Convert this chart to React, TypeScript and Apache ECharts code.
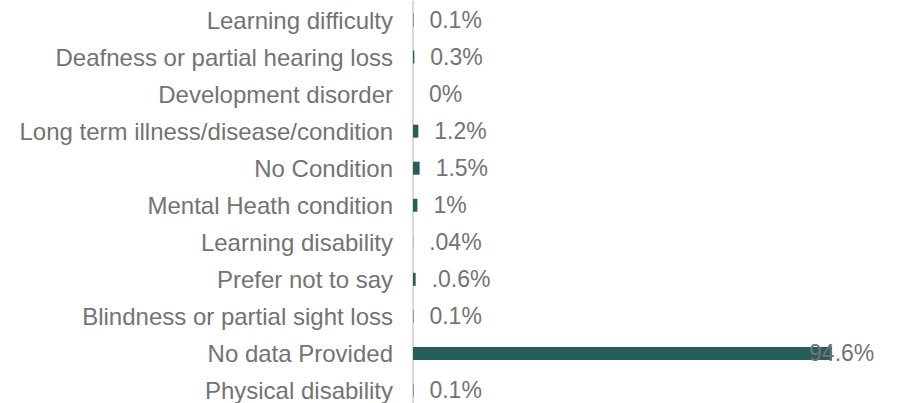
import React, { useEffect, useRef } from "react";
import * as echarts from "echarts";

const categories = [
  "Learning difficulty",
  "Deafness or partial hearing loss",
  "Development disorder",
  "Long term illness/disease/condition",
  "No Condition",
  "Mental Heath condition",
  "Learning disability",
  "Prefer not to say",
  "Blindness or partial sight loss",
  "No data Provided",
  "Physical disability",
];
const values = [0.1, 0.3, 0, 1.2, 1.5, 1, 0.04, 0.6, 0.1, 94.6, 0.1];
const valueLabels = ["0.1%", "0.3%", "0%", "1.2%", "1.5%", "1%", ".04%", ".0.6%", "0.1%", "94.6%", "0.1%"];

export default function App() {
  const ref = useRef<HTMLDivElement>(null);
  useEffect(() => {
    const chart = echarts.init(ref.current!, null, { renderer: "svg" });
    const font = "Arial, 'Liberation Sans', sans-serif";
    chart.setOption({
      animation: false,
      grid: { left: 413, top: 1.5, width: 443, height: 407.5, containLabel: false },
      xAxis: {
        type: "value",
        min: 0,
        max: 100,
        show: false,
      },
      yAxis: {
        type: "category",
        inverse: true,
        data: categories,
        axisLine: { show: true, lineStyle: { color: "#d9d9d9", width: 2 } },
        axisTick: { show: false },
        axisLabel: { color: "#737373", fontSize: 24, fontFamily: font, margin: 20 },
      },
      series: [
        {
          type: "bar",
          barWidth: 13,
          itemStyle: { color: "#285e59" },
          data: values.map((v, i) => ({
            value: v,
            label: i === 9 ? { offset: [-39, 0] } : undefined,
          })),
          label: {
            show: true,
            position: "right",
            distance: 16,
            color: "#737373",
            fontSize: 23,
            fontFamily: font,
            formatter: (p: any) => valueLabels[p.dataIndex],
          },
        },
      ],
    });
    return () => chart.dispose();
  }, []);
  return (
    <div
      style={{ position: "absolute", left: 0, top: 0, width: 901, height: 403, overflow: "hidden" }}
    >
      <div ref={ref} style={{ width: 901, height: 420 }} />
    </div>
  );
}
